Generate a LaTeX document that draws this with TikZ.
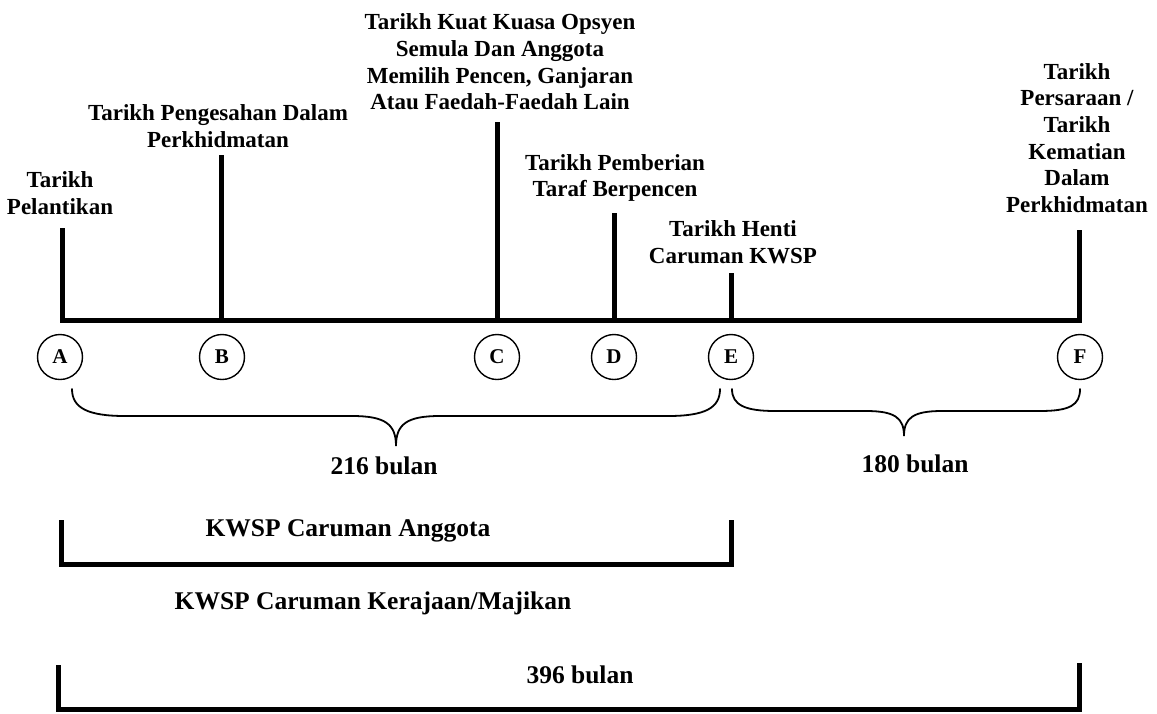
\documentclass[tikz,border=0pt]{standalone}
\usepackage{fontspec}
\setmainfont{Liberation Serif}
\begin{document}
\begin{tikzpicture}[x=1pt,y=-1pt,
  lbl/.style={font=\fontsize{23}{26.7}\selectfont\bfseries, align=center, inner sep=0pt},
  big/.style={font=\fontsize{25.5}{30}\selectfont\bfseries, inner sep=0pt},
  pnt/.style={circle, draw, line width=1.4pt, minimum size=45pt, inner sep=0pt, font=\fontsize{21}{24}\selectfont\bfseries},
  bar/.style={line width=5pt, line cap=butt, line join=miter},
  brc/.style={line width=1.8pt, line cap=round}]
\useasboundingbox (0,0) rectangle (1157,713);

% timeline points and tick tops
\coordinate (tA) at (62,320);   \coordinate (hA) at (62,228);
\coordinate (tB) at (221,320);  \coordinate (hB) at (221,155);
\coordinate (tC) at (497,320);  \coordinate (hC) at (497,122);
\coordinate (tD) at (614,320);  \coordinate (hD) at (614,213);
\coordinate (tE) at (731,320);  \coordinate (hE) at (731,273);
\coordinate (tF) at (1079,320); \coordinate (hF) at (1079,230);

\draw[bar] (hA) -- (tA) -- (tF) -- (hF);
\draw[bar] (tB) -- (hB);
\draw[bar] (tC) -- (hC);
\draw[bar] (tD) -- (hD);
\draw[bar] (tE) -- (hE);

% labels
\node[lbl] (lA) at (60,193) {Tarikh\\Pelantikan};
\node[lbl] (lB) at (218,126) {Tarikh Pengesahan Dalam\\Perkhidmatan};
\node[lbl] (lC) at (500,62) {Tarikh Kuat Kuasa Opsyen\\Semula Dan Anggota\\Memilih Pencen, Ganjaran\\Atau Faedah-Faedah Lain};
\node[lbl] (lD) at (615,178) {Tarikh Pemberian\\Taraf Berpencen};
\node[lbl] (lE) at (733,242) {Tarikh Henti\\Caruman KWSP};
\node[lbl] (lF) at (1077,138) {Tarikh\\Persaraan /\\Tarikh\\Kematian\\Dalam\\Perkhidmatan};

% circles
\node[pnt] (cA) at (60,357) {A};
\node[pnt] (cB) at (222,357) {B};
\node[pnt] (cC) at (497,357) {C};
\node[pnt] (cD) at (614,357) {D};
\node[pnt] (cE) at (731,357) {E};
\node[pnt] (cF) at (1080,357) {F};

% braces
\coordinate (b1l) at (72,389);  \coordinate (b1r) at (720,389); \coordinate (b1t) at (396,446);
\coordinate (b2l) at (732,389); \coordinate (b2r) at (1080,389); \coordinate (b2t) at (904,436);
\draw[brc] (b1l) .. controls (72,408) and (88,416) .. (125,416) -- (352,416)
  .. controls (385,416) and (396,424) .. (b1t)
  .. controls (396,424) and (407,416) .. (440,416) -- (668,416)
  .. controls (705,416) and (720,408) .. (b1r);
\draw[brc] (b2l) .. controls (732,405) and (745,411) .. (775,411) -- (866,411)
  .. controls (895,411) and (904,418) .. (b2t)
  .. controls (904,418) and (913,411) .. (942,411) -- (1040,411)
  .. controls (1070,411) and (1080,405) .. (b2r);

\node[big] (m216) at (384,466) {216 bulan};
\node[big] (m180) at (915,464) {180 bulan};

% brackets
\coordinate (k1a) at (61,520); \coordinate (k1b) at (61,564);
\coordinate (k1c) at (731,564); \coordinate (k1d) at (731,520);
\draw[bar] (k1a) -- (k1b) -- (k1c) -- (k1d);
\node[big] (kwa) at (348,531) {KWSP Caruman Anggota};
\node[big] (kwk) at (373,603) {KWSP Caruman Kerajaan/Majikan};

\coordinate (k2a) at (58,665); \coordinate (k2b) at (58,709);
\coordinate (k2c) at (1079,709); \coordinate (k2d) at (1079,663);
\draw[bar] (k2a) -- (k2b) -- (k2c) -- (k2d);
\node[big] (m396) at (580,675) {396 bulan};
\end{tikzpicture}
\end{document}
